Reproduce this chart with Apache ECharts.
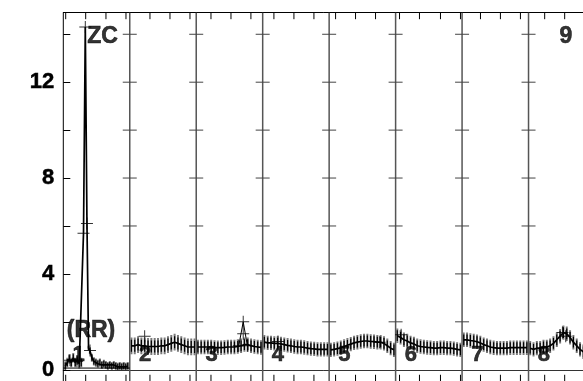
<!DOCTYPE html>
<html><head><meta charset="utf-8">
<script src="https://cdn.jsdelivr.net/npm/echarts/dist/echarts.min.js"></script>
<style>html,body{margin:0;padding:0;background:#fff}#c{width:583px;height:381px}</style>
</head><body><div id="c"></div>
<script>
// ---- data ----
const panelLabels = ['1','2','3','4','5','6','7','8'];
const yLabelValues = [0, 4, 8, 12];
const yTickValues = [2, 4, 6, 8, 10, 12, 14];
// x tick positions (x-axis units, 1 unit = one panel)
const xTickPos = [0.036,0.337,0.642,0.943, 1.304,1.605,1.906, 2.222,2.523,2.823,
  3.169,3.470,3.771, 4.097,4.397,4.698, 5.059,5.359,5.675,5.976, 6.277,6.577,6.878, 7.243,7.544];
// panel 1 (irregular spacing: fraction of panel)
const p1Pos  = [0.03,0.06,0.09,0.12,0.15,0.18,0.21,0.24,0.27,0.304,0.331,0.356,0.38,0.40,0.43,0.46,0.49,0.52,0.55,0.58,0.61,0.64,0.67,0.70,0.73,0.76,0.79,0.82,0.85,0.88,0.91,0.94,0.97];
const p1Vals = [0.15,0.3,0.45,0.3,0.5,0.3,0.4,0.25,0.3,5.7,14.3,6.1,0.9,0.8,0.5,0.35,0.3,0.25,0.3,0.2,0.25,0.2,0.15,0.2,0.15,0.2,0.15,0.12,0.15,0.12,0.15,0.12,0.15];
const p1Err  = [0.2,0.2,0.2,0.2,0.2,0.2,0.2,0.2,0.2,0,0,0,0.1,0.15,0.17,0.17,0.17,0.17,0.17,0.17,0.17,0.17,0.17,0.17,0.17,0.17,0.17,0.17,0.17,0.17,0.17,0.17,0.17];
const p1Baseline = [0.07, 0.07];
// panels 2..8: evenly spaced samples
const p2Vals = [1.0,1.0,1.05,1.0,1.0,0.97,0.97,0.97,0.97,1.0,1.0,1.05,1.1,1.15,1.1,1.05,1.0,0.95,0.95,0.95];
const p3Vals = [0.95,0.95,0.95,0.95,0.95,0.93,0.92,0.92,0.93,0.95,0.95,0.95,0.97,1.0,1.05,1.05,1.0,0.97,0.95,0.93];
const p4Vals = [1.15,1.12,1.12,1.1,1.1,1.08,1.05,1.02,1.0,0.97,0.95,0.95,0.93,0.9,0.88,0.87,0.85,0.85,0.85,0.85];
const p5Vals = [0.83,0.85,0.88,0.92,0.97,1.02,1.07,1.12,1.15,1.18,1.2,1.2,1.18,1.17,1.15,1.15,1.1,1.0,0.9,0.83];
const p6Vals = [1.42,1.35,1.25,1.2,1.12,1.08,1.0,0.97,0.95,0.93,0.92,0.9,0.9,0.92,0.92,0.9,0.9,0.88,0.85,0.83];
const p7Vals = [1.25,1.25,1.22,1.2,1.17,1.12,1.05,1.0,0.95,0.92,0.9,0.9,0.9,0.9,0.92,0.92,0.92,0.92,0.92,0.92];
const p8Vals = [0.9,0.85,0.9,0.9,0.95,0.95,1.0,1.1,1.25,1.4,1.55,1.5,1.35,1.15,1.0,0.85,0.75,0.75,0.8,0.85];
const denseErr = [0.35, 0.3, 0.3, 0.3, 0.3, 0.3, 0.3];
// sparse series with big "+" markers
const p3Sparse = [[2.64,1.0],[2.707,2.0],[2.77,1.0]];
const bigCross = [[0.10,0.4],[0.206,0.35],[0.304,5.7],[0.331,14.3],[0.356,6.1],[0.402,0.8],
  [1.224,1.4],[2.64,1.0],[2.707,2.0],[2.707,1.5],[2.77,1.0],[3.23,1.18],[4.76,1.15],[5.083,1.46],[7.51,1.55],[7.56,1.4]];
// text annotations: [x, y, text]
const annotations = [[0.59,13.89,'ZC'],[0.417,1.63,'(RR)'],[7.564,13.88,'9']];

// ---- config ----
const Y_MAX = 14.9, X_MAX = 520/66.5, PANELS = 8;
const FONT = 'Liberation Sans, Arial, sans-serif';

const denseSets = [p2Vals,p3Vals,p4Vals,p5Vals,p6Vals,p7Vals,p8Vals];
const lines = [];
const errData = [];
lines.push(p1Pos.map((f,i)=>[f, p1Vals[i]]));
p1Pos.forEach((f,i)=>errData.push([f, p1Vals[i], p1Err[i]]));
denseSets.forEach((vals, k) => {
  const p = k + 1;
  const pts = vals.map((v,i)=>[p + (i+0.5)/vals.length, v]);
  lines.push(pts);
  pts.forEach(pt => errData.push([pt[0], pt[1], denseErr[k]]));
});

const crossPath = 'path://M0,5.5H12V6.5H0Z M5.5,0H6.5V12H5.5Z';

function renderFrame(params, api) {
  const ch = [];
  const yTop = api.coord([0, Y_MAX])[1];
  const yBot = api.coord([0, 0])[1];
  const H = api.getHeight();
  const x0 = api.coord([0, 0])[0];
  ch.push({type:'line', shape:{x1:x0,y1:yTop,x2:x0,y2:H}, style:{stroke:'#000', lineWidth:1}});
  for (let k = 1; k < PANELS; k++) {
    const x = api.coord([k, 0])[0];
    ch.push({type:'line', shape:{x1:x,y1:yTop,x2:x,y2:H}, style:{stroke:'#555', lineWidth:1.5}});
    yTickValues.forEach(t => {
      const y = api.coord([k, t])[1];
      ch.push({type:'line', shape:{x1:x-7,y1:y,x2:x+7,y2:y}, style:{stroke:'#444', lineWidth:1}});
    });
  }
  xTickPos.forEach(t => {
    const x = api.coord([t, 0])[0];
    ch.push({type:'line', shape:{x1:x,y1:yTop,x2:x,y2:yTop+6.5}, style:{stroke:'#000', lineWidth:1}});
    ch.push({type:'line', shape:{x1:x,y1:yBot+5,x2:x,y2:H}, style:{stroke:'#000', lineWidth:1}});
  });
  return {type:'group', children: ch};
}

function renderErr(params, api) {
  const x = api.value(0), v = api.value(1), e = api.value(2);
  const c = api.coord([x, v]);
  const a = api.coord([x, v + e]), b = api.coord([x, v - e]);
  const ch = [];
  if (e > 0) {
    ch.push({type:'line', shape:{x1:a[0],y1:a[1],x2:b[0],y2:b[1]}, style:{stroke:'#7a7a7a', lineWidth:2}});
    const h = Math.min(6, (b[1]-a[1])/2 * 0.75);
    ch.push({type:'line', shape:{x1:c[0],y1:c[1]-h,x2:c[0],y2:c[1]+h}, style:{stroke:'#000', lineWidth:1.2}});
  }
  return {type:'group', children: ch};
}

const series = [];
series.push({type:'custom', renderItem: renderFrame, data:[[0,0]], clip:false, silent:true, z:1});
series.push({type:'custom', renderItem: renderErr, data: errData, clip:true, silent:true, z:2,
  encode:{x:0,y:1}});
lines.forEach(d => series.push({type:'line', data:d, symbol:'none', clip:true, silent:true, z:3,
  lineStyle:{color:'#000', width:1.7}}));
series.push({type:'line', data:[[0,p1Baseline[0]],[1,p1Baseline[1]]], symbol:'none', silent:true, z:3,
  lineStyle:{color:'#000', width:1}});
series.push({type:'line', data:p3Sparse, symbol:'none', silent:true, z:3, lineStyle:{color:'#000', width:1}});
series.push({type:'scatter', data:bigCross, symbol:crossPath, symbolSize:12, silent:true, z:4,
  itemStyle:{color:'#000'}});
const labelStyle = {show:true, position:'inside', color:'#000', fontWeight:'bold', fontSize:22, fontFamily:FONT,
  textBorderColor:'#000', textBorderWidth:0.6};
series.push({type:'scatter', symbolSize:0, silent:true, z:5,
  data: panelLabels.map((t,i)=>({value:[i+0.23, 0.63], name:t})),
  label: Object.assign({}, labelStyle, {formatter: p => p.name})});
series.push({type:'scatter', symbolSize:0, silent:true, z:5,
  data: annotations.map(a=>({value:[a[0],a[1]], name:a[2]})),
  label: Object.assign({}, labelStyle, {fontSize:23, formatter: p => p.name})});

const chart = echarts.init(document.getElementById('c'), null, {renderer:'canvas'});
chart.setOption({
  animation:false,
  backgroundColor:'#fff',
  grid:{left:63.3, right:0, top:12.7, bottom:11},
  xAxis:[
    {type:'value', min:0, max:X_MAX, position:'bottom',
      axisLine:{show:true, lineStyle:{color:'#333', width:1}}, axisTick:{show:false},
      axisLabel:{show:false}, splitLine:{show:false}},
    {type:'value', min:0, max:X_MAX, position:'top',
      axisLine:{show:true, lineStyle:{color:'#000', width:1}}, axisTick:{show:false},
      axisLabel:{show:false}, splitLine:{show:false}}
  ],
  yAxis:{type:'value', min:0, max:Y_MAX, interval:2,
    axisLine:{show:false}, axisTick:{show:true, inside:true, length:7, lineStyle:{color:'#000'}},
    axisLabel:{show:true, margin:9, showMaxLabel:false, color:'#000', fontWeight:'bold', fontSize:22, fontFamily:FONT,
      textBorderColor:'#000', textBorderWidth:0.5,
      formatter: v => yLabelValues.indexOf(v) >= 0 ? String(v) : ''},
    splitLine:{show:false}},
  series: series
});
</script>
</body></html>
